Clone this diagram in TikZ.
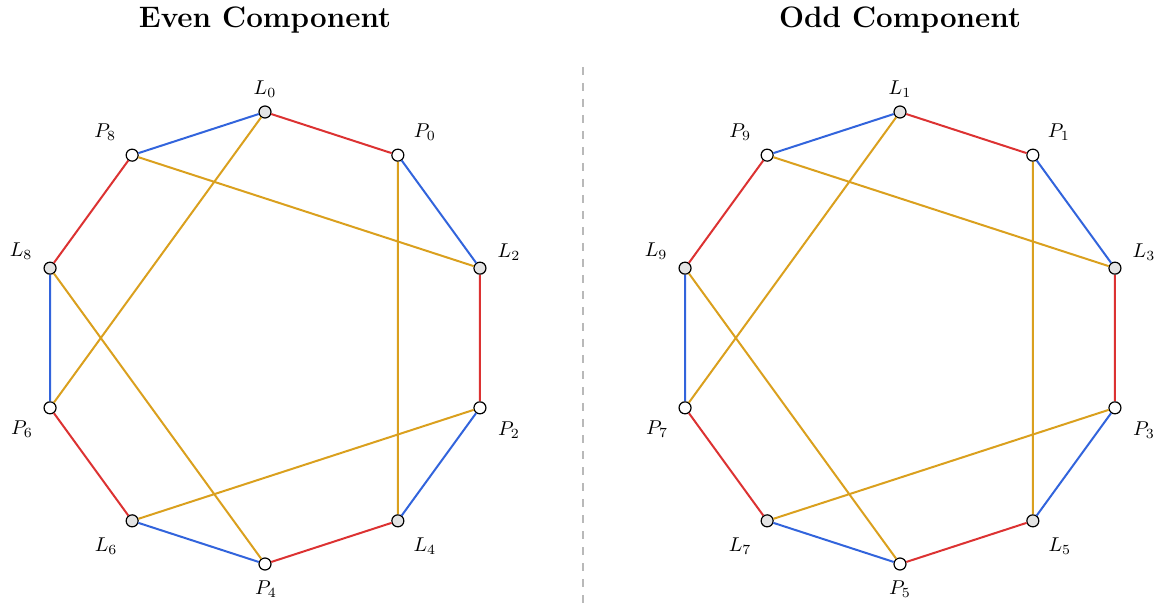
\documentclass[tikz,border=0pt]{standalone}
\usetikzlibrary{calc}
\definecolor{cred}{RGB}{220,50,50}
\definecolor{cblue}{RGB}{50,100,220}
\definecolor{cgold}{RGB}{218,160,30}
\definecolor{cdiv}{RGB}{185,185,185}
\definecolor{cnode}{RGB}{228,228,228}
\begin{document}
\begin{tikzpicture}[x=0.5pt,y=0.5pt,
  vtx/.style={circle,draw=black,line width=0.6pt,inner sep=0pt,minimum size=6pt},
  lv/.style={vtx,fill=cnode},
  pv/.style={vtx,fill=white},
  lab/.style={inner sep=0pt},
  redE/.style={draw=cred,line width=1pt},
  blueE/.style={draw=cblue,line width=1pt},
  goldE/.style={draw=cgold,line width=1pt},
  divider/.style={draw=cdiv,line width=0.8pt,dash pattern=on 4pt off 4pt},
  titlestyle/.style={font=\fontsize{14.8}{18}\selectfont\bfseries}]
\useasboundingbox (0,0) rectangle (1157,606);
% titles
\node[titlestyle] (t1) at (265,586) {Even Component};
\node[titlestyle] (t2) at (900,586) {Odd Component};
% divider
\coordinate (dtop) at (583,539);
\coordinate (dbot) at (583,0);
\draw[divider] (dtop) -- (dbot);
% left nodes
\begin{scope}[shift={(265,268)}]
\foreach \i/\a in {0/90,2/18,4/-54,6/-126,8/-198} {\node[lv] (L\i) at (\a:226) {};}
\foreach \i/\a in {0/54,2/-18,4/-90,6/-162,8/126} {\node[pv] (P\i) at (\a:226) {};}
\end{scope}
% right nodes
\begin{scope}[shift={(900,268)}]
\foreach \i/\a in {1/90,3/18,5/-54,7/-126,9/-198} {\node[lv] (L\i) at (\a:226) {};}
\foreach \i/\a in {1/54,3/-18,5/-90,7/-162,9/126} {\node[pv] (P\i) at (\a:226) {};}
\end{scope}
% edges left
\draw[redE] (L0) -- (P0) (L2) -- (P2) (L4) -- (P4) (L6) -- (P6) (L8) -- (P8);
\draw[blueE] (P0) -- (L2) (P2) -- (L4) (P4) -- (L6) (P6) -- (L8) (P8) -- (L0);
\draw[goldE] (L0) -- (P6) (P8) -- (L2) (P0) -- (L4) (P2) -- (L6) (L8) -- (P4);
% edges right
\draw[redE] (L1) -- (P1) (L3) -- (P3) (L5) -- (P5) (L7) -- (P7) (L9) -- (P9);
\draw[blueE] (P1) -- (L3) (P3) -- (L5) (P5) -- (L7) (P7) -- (L9) (P9) -- (L1);
\draw[goldE] (L1) -- (P7) (P9) -- (L3) (P1) -- (L5) (P3) -- (L7) (L9) -- (P5);
% labels
\foreach \n/\dx/\dy/\t in {L0/0/23/L_0, P0/27/23/P_0, L2/29/16/L_2, P2/29/-22/P_2, L4/27/-25/L_4,
  P4/1/-25/P_4, L6/-26/-25/L_6, P6/-28/-21/P_6, L8/-29/17/L_8, P8/-27/23/P_8,
  L1/0/23/L_1, P1/26/23/P_1, L3/29/16/L_3, P3/29/-22/P_3, L5/27/-25/L_5,
  P5/0/-25/P_5, L7/-27/-25/L_7, P7/-28/-21/P_7, L9/-29/17/L_9, P9/-27/23/P_9}
  {\node[lab] (lab\n) at ($(\n)+(\dx,\dy)$) {$\t$};}
\end{tikzpicture}
\end{document}
